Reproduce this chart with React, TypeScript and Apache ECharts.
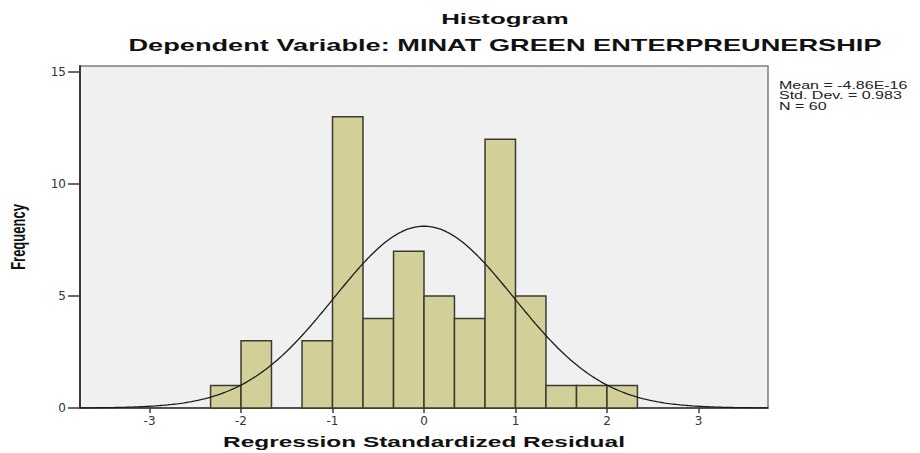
import React, { useEffect, useRef } from "react";
import * as echarts from "echarts";

// Histogram bins (Regression Standardized Residual), bin width 1/3
const binLower = [-2.333, -2, -1.667, -1.333, -1, -0.667, -0.333, 0, 0.333, 0.667, 1, 1.333, 1.667, 2];
const binUpper = [-2, -1.667, -1.333, -1, -0.667, -0.333, 0, 0.333, 0.667, 1, 1.333, 1.667, 2, 2.333];
const counts = [1, 3, 0, 3, 13, 4, 7, 5, 4, 12, 5, 1, 1, 1];

const xTicks = [-3, -2, -1, 0, 1, 2, 3];
const yTicks = [0, 5, 10, 15];

// Summary statistics shown in the chart
const statMean = -4.86e-16;
const statSd = 0.983;
const statN = 60;
const binWidth = 1 / 3;

const xMin = -3.76;
const xMax = 3.76;
const yMax = 15.27;

const titleText = "Histogram";
const subtitleText = "Dependent Variable: MINAT GREEN ENTERPREUNERSHIP";
const xName = "Regression Standardized Residual";
const yName = "Frequency";
const statLines = ["Mean = -4.86E-16", "Std. Dev. = 0.983", "N = 60"];

export default function App() {
  const ref = useRef<HTMLDivElement>(null);

  useEffect(() => {
    if (!ref.current) return;
    const chart = echarts.init(ref.current, null, { renderer: "svg" });

    const barData = binLower.map((lo, i) => [lo, binUpper[i], counts[i]]);

    // fitted normal curve from the stated mean / std. dev. / N
    const curve: number[][] = [];
    for (let k = 0; k <= 376; k++) {
      const x = xMin + (k * (xMax - xMin)) / 376;
      const z = (x - statMean) / statSd;
      const y = (statN * binWidth * Math.exp(-0.5 * z * z)) / (statSd * Math.sqrt(2 * Math.PI));
      curve.push([x, y]);
    }

    const font = '"Liberation Sans", Arial, sans-serif';

    chart.setOption({
      animation: false,
      backgroundColor: "#ffffff",
      grid: {
        left: 80,
        right: 152,
        top: 66,
        bottom: 45,
        show: true,
        backgroundColor: "#f0f0f0",
        borderColor: "#7c7c7c",
        borderWidth: 1.5,
      },
      xAxis: {
        type: "value",
        min: xMin,
        max: xMax,
        axisLine: { show: true, onZero: false, lineStyle: { color: "#3a3a3a", width: 1.5 } },
        axisTick: { show: true, length: 5, customValues: xTicks, lineStyle: { color: "#3a3a3a", width: 1.5 } },
        axisLabel: {
          customValues: xTicks,
          margin: 7,
          fontSize: 12,
          fontFamily: '"DejaVu Sans", sans-serif',
          color: "#333",
        },
        splitLine: { show: false },
      },
      yAxis: {
        type: "value",
        min: 0,
        max: yMax,
        axisLine: { show: true, onZero: false, lineStyle: { color: "#3a3a3a", width: 2 } },
        axisTick: { show: true, length: 12, customValues: yTicks, lineStyle: { color: "#3a3a3a", width: 1.5 } },
        axisLabel: {
          customValues: yTicks,
          margin: 14,
          fontSize: 12,
          fontFamily: '"DejaVu Sans", sans-serif',
          color: "#333",
        },
        splitLine: { show: false },
      },
      series: [
        {
          type: "custom",
          data: barData,
          encode: { x: [0, 1], y: 2 },
          renderItem: (params: any, api: any) => {
            const c = api.value(2);
            if (!c) return null;
            const p0 = api.coord([api.value(0), c]);
            const p1 = api.coord([api.value(1), 0]);
            return {
              type: "rect",
              shape: { x: p0[0], y: p0[1], width: p1[0] - p0[0], height: p1[1] - p0[1] },
              style: { fill: "#d3cf98", stroke: "#3b3b32", lineWidth: 1.5 },
            };
          },
          z: 2,
        },
        {
          type: "line",
          data: curve,
          showSymbol: false,
          symbol: "none",
          smooth: false,
          lineStyle: { color: "#1a1a1a", width: 1.3 },
          z: 3,
        },
      ],
      graphic: [
        {
          type: "text",
          x: 505,
          y: 19,
          scaleX: 1.72,
          style: { text: titleText, font: `bold 15px ${font}`, fill: "#111", align: "center", verticalAlign: "middle" },
        },
        {
          type: "text",
          x: 505,
          y: 46,
          scaleX: 1.7,
          style: { text: subtitleText, font: `bold 16px ${font}`, fill: "#111", align: "center", verticalAlign: "middle" },
        },
        {
          type: "text",
          x: 424,
          y: 442,
          scaleX: 1.63,
          style: { text: xName, font: `bold 15px ${font}`, fill: "#111", align: "center", verticalAlign: "middle" },
        },
        {
          type: "text",
          x: 19,
          y: 237,
          rotation: Math.PI / 2,
          scaleY: 1.5,
          style: { text: yName, font: `bold 13px ${font}`, fill: "#111", align: "center", verticalAlign: "middle" },
        },
        {
          type: "text",
          x: 779,
          y: 80,
          scaleX: 1.6,
          style: {
            text: statLines.join("\n"),
            font: `10px ${font}`,
            lineHeight: 10.5,
            fill: "#222",
            align: "left",
            verticalAlign: "top",
          },
        },
      ],
    });

    return () => chart.dispose();
  }, []);

  return (
    <div
      ref={ref}
      style={{ position: "fixed", left: 0, top: 0, width: 920, height: 453 }}
    />
  );
}
